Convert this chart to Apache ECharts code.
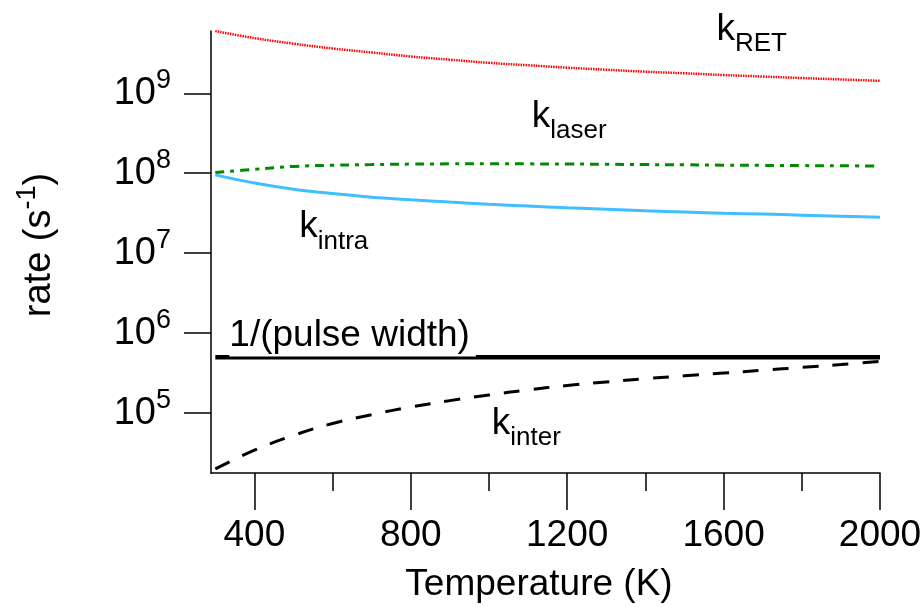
<!DOCTYPE html>
<html>
<head>
<meta charset="utf-8">
<script src="https://cdn.jsdelivr.net/npm/echarts@6/dist/echarts.min.js"></script>
<style>
  html, body { margin: 0; padding: 0; background: #fff; }
  #chart { width: 924px; height: 607px; }
</style>
</head>
<body>
<div id="chart"></div>
<script>
// Temperature grid (K)
const temperature = [300, 400, 500, 600, 700, 800, 900, 1000, 1100, 1200, 1300, 1400, 1500, 1600, 1700, 1800, 1900, 2000];

// Rates (s^-1) versus temperature
const kRET   = [6.0e9, 4.9e9, 4.17e9, 3.63e9, 3.24e9, 2.88e9, 2.63e9, 2.40e9, 2.24e9, 2.09e9, 1.97e9, 1.86e9, 1.78e9, 1.69e9, 1.62e9, 1.55e9, 1.49e9, 1.43e9];
const kLaser = [1.02e8, 1.12e8, 1.216e8, 1.259e8, 1.282e8, 1.30e8, 1.309e8, 1.312e8, 1.309e8, 1.303e8, 1.294e8, 1.282e8, 1.274e8, 1.262e8, 1.253e8, 1.245e8, 1.239e8, 1.23e8];
const kIntra = [9.53e7, 7.53e7, 6.31e7, 5.56e7, 5.01e7, 4.66e7, 4.35e7, 4.09e7, 3.88e7, 3.70e7, 3.54e7, 3.39e7, 3.27e7, 3.16e7, 3.08e7, 2.99e7, 2.90e7, 2.82e7];
const kInter = [2.0e4, 3.43e4, 5.25e4, 7.41e4, 9.55e4, 1.19e5, 1.43e5, 1.68e5, 1.95e5, 2.21e5, 2.45e5, 2.69e5, 2.92e5, 3.16e5, 3.43e5, 3.72e5, 4.05e5, 4.42e5];

// 1/(pulse width): constant over the temperature range
const pulseT    = [300, 2000];
const pulseRate = [5e5, 5e5];

// Axis ticks
const xMajorTicks = [400, 800, 1200, 1600, 2000];
const xMinorTicks = [600, 1000, 1400, 1800];
const yTicks = [1e5, 1e6, 1e7, 1e8, 1e9];
const xRange = [289, 2000];
const yRange = [17783, 6.01e9];

const FONT = '"Liberation Sans", Arial, Helvetica, sans-serif';

function pairs(xs, ys) { return xs.map((x, i) => [x, ys[i]]); }

const chart = echarts.init(document.getElementById('chart'), null, { renderer: 'canvas' });

function lineSeries(name, ys, color, width, type, xs) {
  return {
    name: name,
    type: 'line',
    data: pairs(xs || temperature, ys),
    showSymbol: false,
    smooth: 0.4,
    silent: true,
    lineStyle: { color: color, width: width, type: type, cap: 'butt' },
    z: 3
  };
}

function kLabel(sub, x, y) {
  return [
    { type: 'text', x: x, y: y, z: 100,
      style: { text: 'k', fontSize: 37, fontFamily: FONT, fill: '#000', align: 'left', verticalAlign: 'middle' } },
    { type: 'text', x: x + 18.5, y: y + 14.4, z: 100,
      style: { text: sub, fontSize: 26, fontFamily: FONT, fill: '#000', align: 'left', verticalAlign: 'middle' } }
  ];
}

const option = {
  animation: false,
  backgroundColor: '#fff',
  grid: { left: 211, right: 44, top: 31, bottom: 134, containLabel: false, outerBoundsMode: 'none' },
  xAxis: [
    {
      type: 'value', position: 'bottom', min: xRange[0], max: xRange[1],
      axisLine: { show: true, lineStyle: { color: '#000', width: 1.5 } },
      axisTick: { show: true, inside: false, length: 37, customValues: xMajorTicks, lineStyle: { color: '#000', width: 1.5 } },
      axisLabel: { show: true, customValues: xMajorTicks, margin: 43, lineHeight: 40, fontSize: 37, fontFamily: FONT, color: '#000',
                   formatter: function (v) { return String(v); } },
      splitLine: { show: false }
    },
    {
      type: 'value', position: 'bottom', min: xRange[0], max: xRange[1],
      axisLine: { show: false },
      axisTick: { show: true, inside: false, length: 18, customValues: xMinorTicks, lineStyle: { color: '#000', width: 1.5 } },
      axisLabel: { show: false },
      splitLine: { show: false }
    }
  ],
  yAxis: {
    type: 'log', logBase: 10, min: yRange[0], max: yRange[1],
    axisLine: { show: true, lineStyle: { color: '#000', width: 1.5 } },
    axisTick: { show: true, inside: false, length: 27, customValues: yTicks, lineStyle: { color: '#000', width: 1.5 } },
    minorTick: { show: false },
    axisLabel: {
      show: true, customValues: yTicks, margin: 40,
      formatter: function (v) { return '{b|10}{s|' + Math.round(Math.log10(v)) + '}'; },
      rich: {
        b: { fontSize: 38, fontFamily: FONT, color: '#000', lineHeight: 52 },
        s: { fontSize: 27, fontFamily: FONT, color: '#000', lineHeight: 20, verticalAlign: 'top' }
      }
    },
    splitLine: { show: false }
  },
  series: [
    lineSeries('kRET', kRET, '#ff0000', 2.5, [1.5, 1]),
    lineSeries('klaser', kLaser, '#008a00', 3, [9, 6, 4, 6]),
    lineSeries('kintra', kIntra, '#40bfff', 3, 'solid'),
    lineSeries('kinter', kInter, '#000000', 3, [16, 14]),
    lineSeries('1/(pulse width)', pulseRate, '#000000', 4.5, 'solid', pulseT)
  ],
  graphic: [
    ...kLabel('RET', 716.5, 29.9),
    ...kLabel('laser', 531.8, 116.5),
    ...kLabel('intra', 299.2, 227.2),
    ...kLabel('inter', 491.8, 423.9),
    { type: 'text', x: 229.3, y: 335.5, z: 100,
      style: { text: '1/(pulse width)', fontSize: 37, fontFamily: FONT, fill: '#000',
               align: 'left', verticalAlign: 'middle', lineHeight: 42,
               backgroundColor: '#fff', padding: [0, 6, 0, 0] } },
    { type: 'text', x: 539, y: 585, z: 100,
      style: { text: 'Temperature (K)', fontSize: 37, fontFamily: FONT, fill: '#000', align: 'center', verticalAlign: 'middle' } },
    { type: 'text', x: 40, y: 245, rotation: Math.PI / 2, z: 100,
      style: {
        text: '{b|rate (s}{s|-1}{b|)}', align: 'center', verticalAlign: 'middle',
        rich: {
          b: { fontSize: 38, fontFamily: FONT, fill: '#000', lineHeight: 52 },
          s: { fontSize: 27, fontFamily: FONT, fill: '#000', lineHeight: 20, verticalAlign: 'top' }
        }
      } }
  ]
};

chart.setOption(option);
</script>
</body>
</html>
